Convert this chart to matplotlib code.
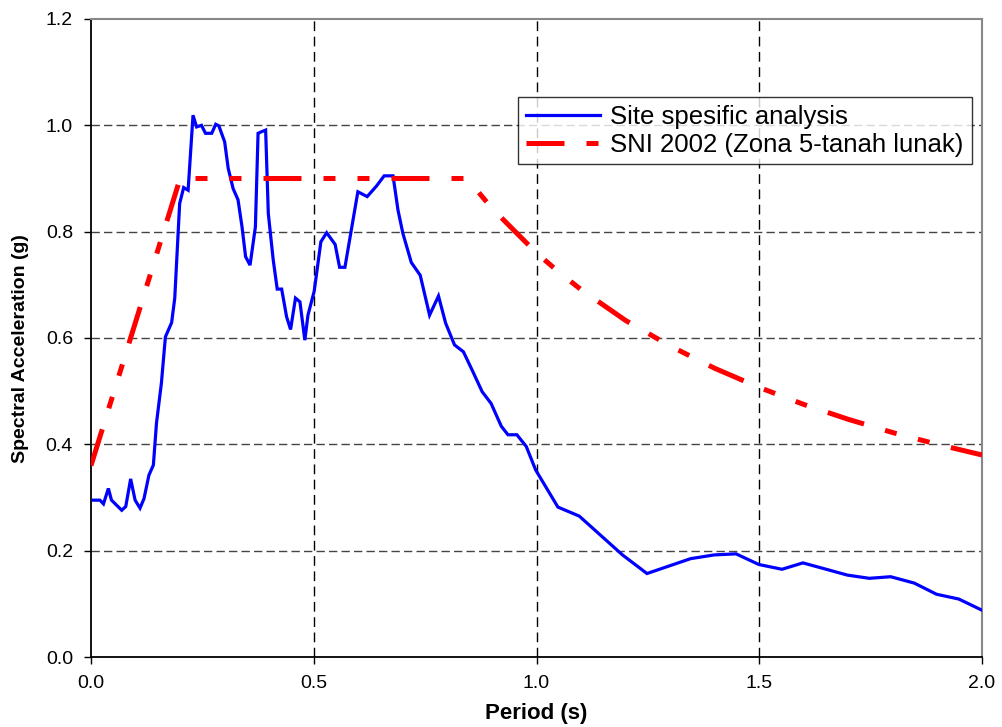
import matplotlib
matplotlib.use("Agg")
import matplotlib.pyplot as plt

plt.rcParams['font.family'] = ['Liberation Sans', 'DejaVu Sans']

# Site specific analysis (blue)
site_period = [0.005, 0.02, 0.028, 0.039, 0.046, 0.069, 0.078, 0.089, 0.099, 0.110,
               0.119, 0.130, 0.140, 0.147, 0.158, 0.167, 0.181, 0.188, 0.199, 0.208,
               0.218, 0.229, 0.237, 0.248, 0.257, 0.271, 0.280, 0.287, 0.300, 0.308,
               0.319, 0.330, 0.339, 0.347, 0.357, 0.369, 0.375, 0.383, 0.392, 0.398,
               0.409, 0.418, 0.428, 0.439, 0.448, 0.459, 0.469, 0.480, 0.487, 0.501,
               0.516, 0.529, 0.548, 0.558, 0.570, 0.581, 0.599, 0.620, 0.641, 0.658,
               0.678, 0.689, 0.700, 0.719, 0.739, 0.760, 0.780, 0.796, 0.816, 0.836,
               0.857, 0.878, 0.898, 0.921, 0.936, 0.956, 0.977, 0.998, 1.048, 1.096,
               1.193, 1.248, 1.346, 1.399, 1.448, 1.499, 1.551, 1.598, 1.646, 1.698,
               1.747, 1.795, 1.848, 1.898, 1.948, 2.0]
site_sa = [0.295, 0.295, 0.288, 0.317, 0.295, 0.276, 0.283, 0.335, 0.295, 0.280,
           0.298, 0.342, 0.361, 0.440, 0.515, 0.602, 0.629, 0.675, 0.853, 0.883,
           0.878, 1.019, 0.997, 1.000, 0.985, 0.985, 1.002, 0.999, 0.969, 0.919,
           0.881, 0.860, 0.809, 0.753, 0.737, 0.809, 0.985, 0.988, 0.991, 0.834,
           0.747, 0.692, 0.692, 0.640, 0.616, 0.675, 0.668, 0.596, 0.643, 0.688,
           0.781, 0.798, 0.776, 0.733, 0.733, 0.787, 0.875, 0.866, 0.886, 0.905,
           0.905, 0.841, 0.797, 0.742, 0.718, 0.643, 0.679, 0.628, 0.587, 0.574,
           0.537, 0.499, 0.477, 0.434, 0.418, 0.418, 0.396, 0.352, 0.282, 0.265,
           0.192, 0.157, 0.185, 0.192, 0.194, 0.174, 0.165, 0.177, 0.166, 0.154,
           0.148, 0.151, 0.139, 0.118, 0.109, 0.088]

# SNI 2002 (Zona 5 - tanah lunak) (red)
sni_period = [0.0, 0.2, 0.844, 0.9, 1.0, 1.05, 1.1, 1.2, 1.3, 1.4, 1.5, 1.6, 1.7, 1.8, 1.9, 2.0]
sni_sa = [0.36, 0.90, 0.90, 0.844, 0.76, 0.724, 0.691, 0.633, 0.585, 0.543, 0.507,
          0.475, 0.447, 0.422, 0.400, 0.380]

x_ticks = [0.0, 0.5, 1.0, 1.5, 2.0]
y_ticks = [0.0, 0.2, 0.4, 0.6, 0.8, 1.0, 1.2]

fig = plt.figure(figsize=(10.02, 7.27), dpi=100)
ax = fig.add_axes([91/1002, 1-657/727, (982-91)/1002, (657-19)/727])

ax.plot(site_period, site_sa, color='#0000FF', lw=2.3, label='Site spesific analysis',
        solid_joinstyle='miter', zorder=3)
ax.plot(sni_period, sni_sa, color='#FF0000', lw=3.6,
        linestyle=(0, (7.6, 4.4, 2.4, 4.4, 2.4, 4.4)), dash_capstyle='butt',
        label='SNI 2002 (Zona 5-tanah lunak)', zorder=3)

ax.set_xlim(0, 2.0)
ax.set_ylim(0, 1.2)
ax.set_xticks(x_ticks)
ax.set_yticks(y_ticks)
ax.set_xticklabels([f"{v:.1f}" for v in x_ticks])
ax.set_yticklabels([f"{v:.1f}" for v in y_ticks])
ax.tick_params(axis='both', direction='out', length=5, width=1, labelsize=14, color='black')
ax.tick_params(axis='y', pad=8)
ax.tick_params(axis='x', pad=8)

for v in y_ticks[1:-1]:
    ax.axhline(v, color='#444444', lw=1, linestyle=(0, (6, 3)), zorder=1)
for v in x_ticks[1:-1]:
    ax.axvline(v, color='black', lw=1, linestyle=(0, (7, 4)), zorder=1)

ax.spines['left'].set_color('black')
ax.spines['bottom'].set_color('black')
ax.spines['left'].set_linewidth(1.3)
ax.spines['bottom'].set_linewidth(1.3)
ax.spines['top'].set_color('#888888')
ax.spines['right'].set_color('#888888')
ax.spines['top'].set_linewidth(1.5)
ax.spines['right'].set_linewidth(1.5)

ax.set_xlabel('Period (s)', fontsize=16, fontweight='bold', labelpad=8)
ax.set_ylabel('Spectral Acceleration (g)', fontsize=14, fontweight='bold')
ax.yaxis.set_label_coords(-0.070, 0.483)

leg = ax.legend(loc='upper left', bbox_to_anchor=((518-91)/891, 1-(97-19)/638),
                fontsize=18.5, frameon=True, fancybox=False, edgecolor='black',
                handlelength=2.9, borderpad=0.3, labelspacing=0.15, handletextpad=0.4,
                borderaxespad=0)
leg.get_frame().set_linewidth(1.0)

fig.savefig('out.png', dpi=100)
